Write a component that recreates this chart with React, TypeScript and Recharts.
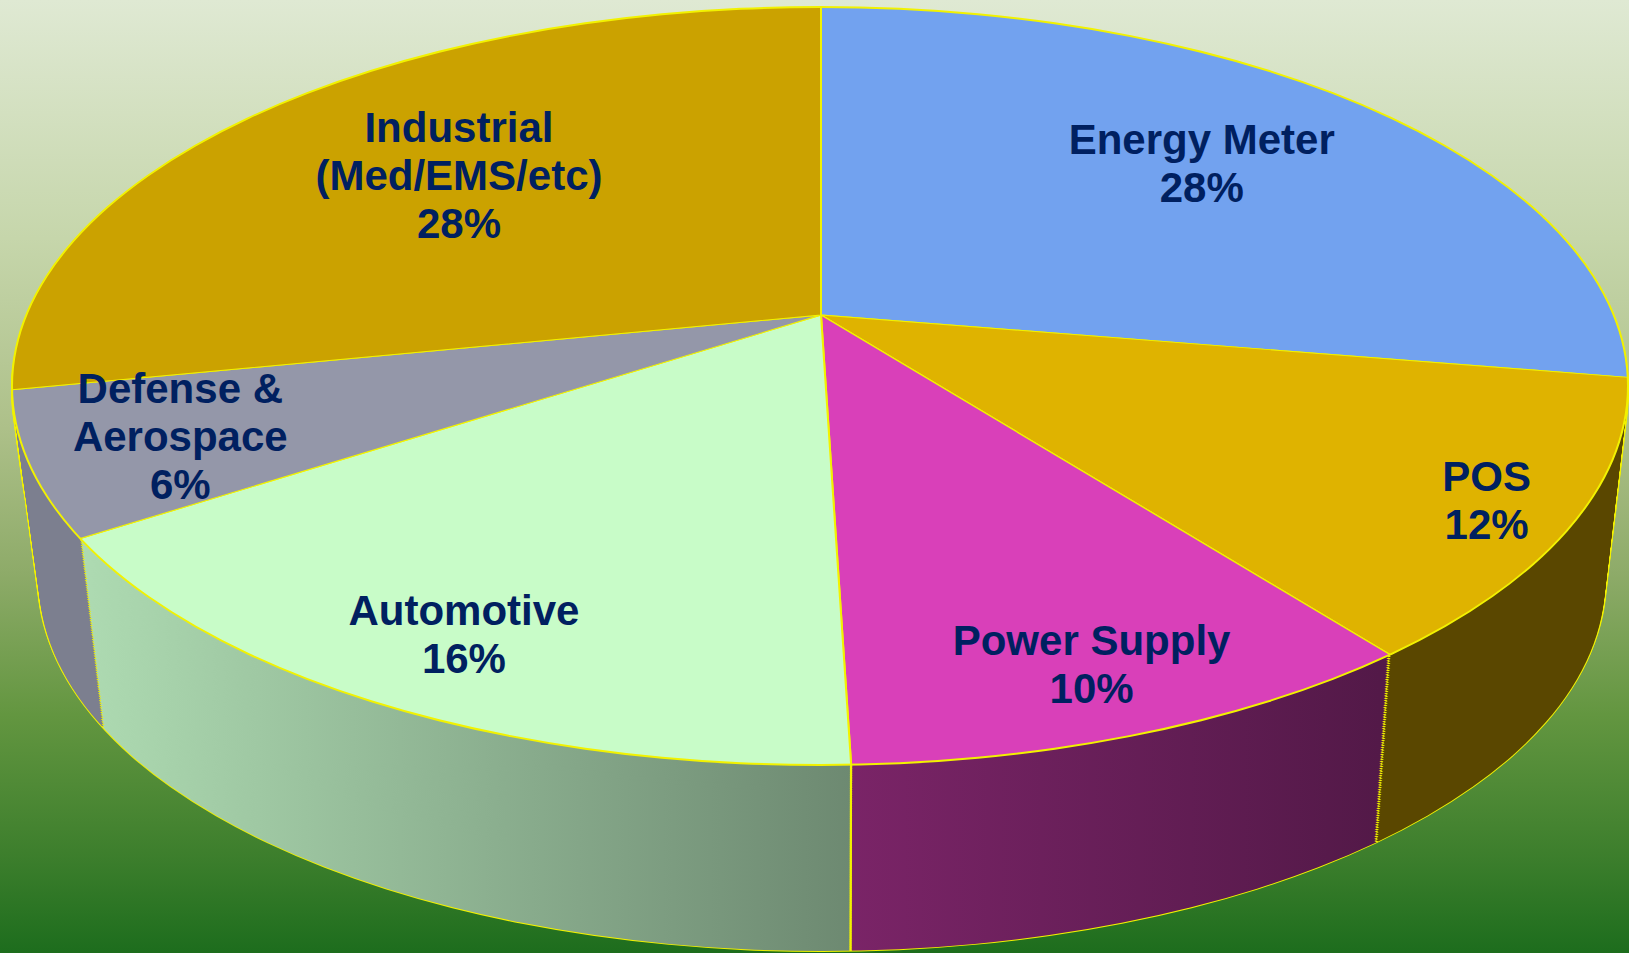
import React from "react";
import { PieChart, Pie, Cell } from "recharts";

// ---------- data ----------
const categories = [
  "Energy Meter",
  "POS",
  "Power Supply",
  "Automotive",
  "Defense & Aerospace",
  "Industrial (Med/EMS/etc)",
];
// shares (%) as read from the slice boundaries; labels show them rounded
const shares = [27.6, 11.8, 10.1, 16.4, 6.0, 28.1];
const labelLines = [
  ["Energy Meter"],
  ["POS"],
  ["Power Supply"],
  ["Automotive"],
  ["Defense &", "Aerospace"],
  ["Industrial", "(Med/EMS/etc)"],
];
const topColors = ["#72a2ef", "#dfb300", "#d940b9", "#c8fcc8", "#9497a9", "#cba200"];
const sideColors = ["#3f5f98", "#5a4700", "url(#sidePower)", "url(#sideAuto)", "#7c7f8f", "#7a6400"];
// radial position of each label, as a fraction of the pie radius
const labelRadius = [0.618, 0.957, 0.98, 0.95, 0.855, 0.58];

const data = categories.map((name, i) => ({ name, value: shares[i] }));

// ---------- layout ----------
const W = 1629;
const H = 953;
const K = 0.469; // vertical squash of the tilted pie
const APEX_X = 821;
const APEX_Y = 315;
const R = 1000;
const TOP = { cx: 820, cy: 386, rx: 808, ry: 379 };
const DEPTH = { dcx: 2, dcy: 195, drx: -25, dry: -9 };
const N = 80;
const YELLOW = "#f2f200";
const LH = 48;
const ZERO = { top: 0, right: 0, bottom: 0, left: 0 };

function ellipseAt(t: number) {
  return {
    cx: TOP.cx + DEPTH.dcx * t,
    cy: TOP.cy + DEPTH.dcy * t,
    rx: TOP.rx + DEPTH.drx * t,
    ry: TOP.ry + DEPTH.dry * t,
  };
}

function Border({ t, b }: { t: number; b: number }) {
  const e = ellipseAt(t);
  return (
    <div
      style={{
        position: "absolute",
        left: e.cx - e.rx - b / 2,
        top: e.cy - e.ry - b / 2,
        width: 2 * e.rx + b,
        height: 2 * e.ry + b,
        borderRadius: "50%",
        border: `${b}px solid ${YELLOW}`,
        boxSizing: "border-box",
      }}
    />
  );
}

function Slab({ t, side }: { t: number; side: boolean }) {
  const e = ellipseAt(t);
  const apexY = APEX_Y + DEPTH.dcy * t;
  const ch = Math.ceil(H / K);
  return (
    <div
      style={{
        position: "absolute",
        left: 0,
        top: 0,
        width: W,
        height: H,
        clipPath: `ellipse(${e.rx}px ${e.ry}px at ${e.cx}px ${e.cy}px)`,
      }}
    >
      <div style={{ width: W, height: ch, transform: `scaleY(${K})`, transformOrigin: "0 0" }}>
        <PieChart width={W} height={ch} margin={ZERO}>
          <Pie
            data={data}
            dataKey="value"
            nameKey="name"
            cx={APEX_X}
            cy={apexY / K}
            innerRadius={0}
            outerRadius={R}
            startAngle={90}
            endAngle={-270}
            stroke={YELLOW}
            strokeWidth={side ? 2.2 : 2}
            isAnimationActive={false}
          >
            {data.map((d, i) => (
              <Cell key={d.name} fill={side ? sideColors[i] : topColors[i]} />
            ))}
          </Pie>
        </PieChart>
      </div>
    </div>
  );
}

const renderLabel = (props: any) => {
  const { cx, cy, midAngle, outerRadius, index } = props;
  const rad = (midAngle * Math.PI) / 180;
  const f = labelRadius[index];
  const x = cx + outerRadius * f * Math.cos(rad);
  const y = cy - outerRadius * f * K * Math.sin(rad);
  const lines = [...labelLines[index], `${Math.round(shares[index])}%`];
  const first = y - ((lines.length - 1) * LH) / 2 + 15;
  return (
    <text
      key={`lbl-${index}`}
      x={x}
      y={first}
      textAnchor="middle"
      fill="#002060"
      fontFamily="'Liberation Sans', Arial, Helvetica, sans-serif"
      fontWeight="bold"
      fontSize={42}
    >
      {lines.map((l, j) => (
        <tspan key={j} x={x} y={first + j * LH}>
          {l}
        </tspan>
      ))}
    </text>
  );
};

export default function App() {
  const borders = [];
  const sides = [];
  for (let i = N; i >= 1; i--) {
    const t = i / N;
    borders.push(<Border key={`b${i}`} t={t} b={2.6} />);
    sides.push(<Slab key={`s${i}`} t={t} side={true} />);
  }
  return (
    <div
      style={{
        position: "absolute",
        left: 0,
        top: 0,
        width: W,
        height: H,
        overflow: "hidden",
        background:
          "linear-gradient(to bottom, #dfe9d3 0%, #c6d6ab 25%, #adc089 45%, #8eab69 60%, #639640 75%, #3c7e2c 90%, #1d6d1d 100%)",
      }}
    >
      <svg width={0} height={0} style={{ position: "absolute" }}>
        <defs>
          <linearGradient id="sideAuto" gradientUnits="userSpaceOnUse" x1={80} y1={0} x2={852} y2={0}>
            <stop offset="0" stopColor="#aedbb2" />
            <stop offset="1" stopColor="#6d8971" />
          </linearGradient>
          <linearGradient id="sidePower" gradientUnits="userSpaceOnUse" x1={852} y1={0} x2={1380} y2={0}>
            <stop offset="0" stopColor="#7a2467" />
            <stop offset="1" stopColor="#531948" />
          </linearGradient>
        </defs>
      </svg>
      {borders}
      {sides}
      <Slab t={0} side={false} />
      <Border t={0} b={2.5} />
      <div style={{ position: "absolute", left: 0, top: 0 }}>
        <PieChart width={W} height={H} margin={ZERO}>
          <Pie
            data={data}
            dataKey="value"
            nameKey="name"
            cx={APEX_X}
            cy={APEX_Y}
            outerRadius={808}
            startAngle={90}
            endAngle={-270}
            fill="none"
            stroke="none"
            labelLine={false}
            label={renderLabel}
            isAnimationActive={false}
          />
        </PieChart>
      </div>
    </div>
  );
}
